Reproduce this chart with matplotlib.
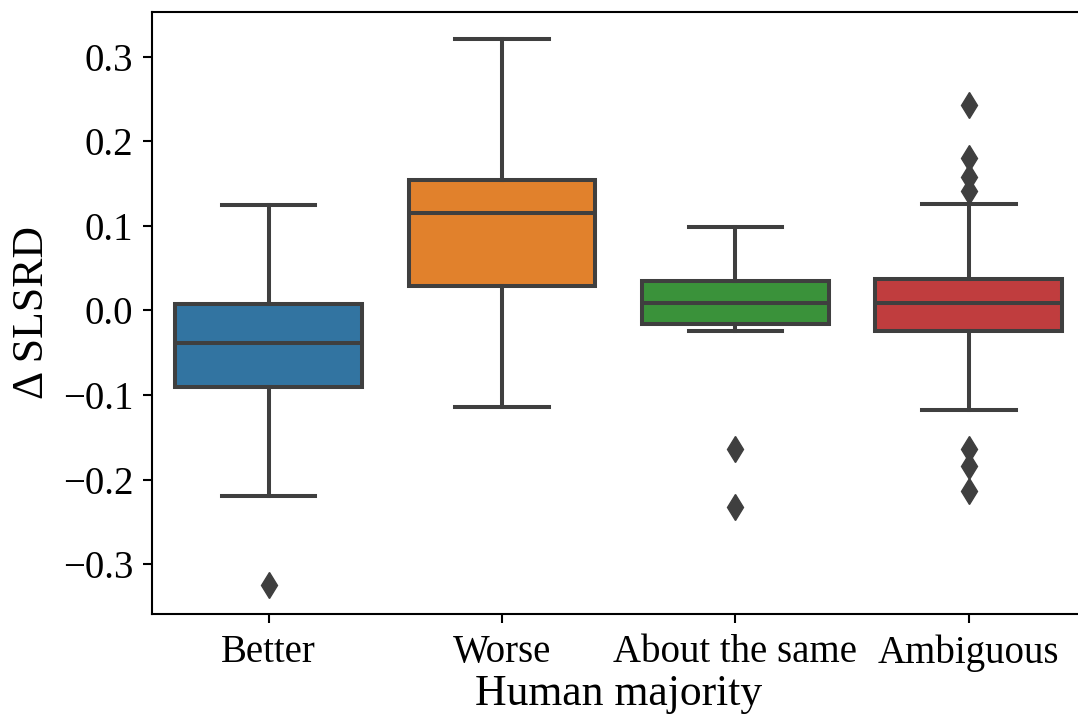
import matplotlib
matplotlib.use("Agg")
import matplotlib.pyplot as plt

plt.rcParams['font.family'] = ['Liberation Serif', 'DejaVu Serif']

# categories and box summary values
categories = ["Better", "Worse", "About the same", "Ambiguous"]
q1 = [-0.0905, 0.029, -0.016, -0.024]
med = [-0.038, 0.115, 0.009, 0.009]
q3 = [0.0077, 0.154, 0.035, 0.037]
whislo = [-0.219, -0.114, -0.024, -0.118]
whishi = [0.125, 0.321, 0.099, 0.126]
fliers = [
    [-0.325],
    [],
    [-0.164, -0.233],
    [0.243, 0.18, 0.158, 0.141, -0.164, -0.184, -0.214],
]
colors = ["#3274a1", "#e1812c", "#3a923a", "#c03d3e"]

stats = []
for i, name in enumerate(categories):
    stats.append({"label": name, "q1": q1[i], "med": med[i], "q3": q3[i],
                  "whislo": whislo[i], "whishi": whishi[i], "fliers": fliers[i]})

fig = plt.figure(figsize=(10.78, 7.23), dpi=100)
ax = fig.add_axes([0.141, 0.1508, 0.866, 0.8326])

grey = "#3f3f3f"
lw = 2.9
bp = ax.bxp(stats, positions=range(len(categories)), widths=0.8,
            patch_artist=True, showfliers=True,
            boxprops=dict(edgecolor=grey, linewidth=lw),
            medianprops=dict(color=grey, linewidth=lw),
            whiskerprops=dict(color=grey, linewidth=lw),
            capprops=dict(color=grey, linewidth=lw),
            flierprops=dict(marker="d", markerfacecolor=grey, markeredgecolor=grey,
                            markersize=13, linestyle="none"))
for patch, c in zip(bp["boxes"], colors):
    patch.set_facecolor(c)
for cap in bp["caps"]:
    x = cap.get_xdata()
    mid = (x[0] + x[1]) / 2
    cap.set_xdata([mid - 0.2, mid + 0.2])

ax.set_xlim(-0.5, 3.5)
ax.set_ylim(-0.359, 0.353)
ax.set_yticks([-0.3, -0.2, -0.1, 0.0, 0.1, 0.2, 0.3])
ax.set_xticks(range(len(categories)))
ax.set_xticklabels(categories)
ax.tick_params(labelsize=28, width=1.5, length=6.5)
ax.tick_params(axis='y', pad=7)
ax.tick_params(axis='x', pad=8)
for s in ax.spines.values():
    s.set_linewidth(1.5)
ax.spines['right'].set_visible(False)
ax.spines['top'].set_visible(True)

ax.set_xlabel("Human majority", fontsize=31.5, labelpad=2)
ax.set_ylabel("Δ SLSRD", fontsize=31.5, labelpad=8)

fig.savefig("out.png", dpi=100)
